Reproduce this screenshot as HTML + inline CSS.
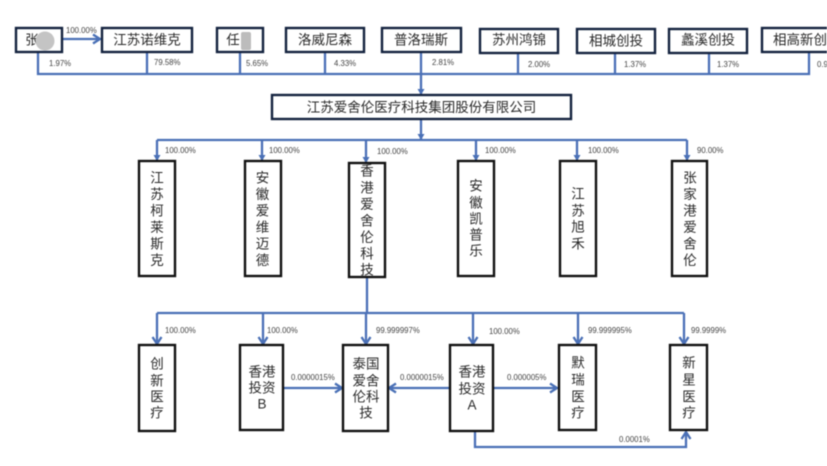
<!DOCTYPE html>
<html lang="zh">
<head>
<meta charset="utf-8">
<title>股权结构图</title>
<style>
html,body{margin:0;padding:0;background:#fff;width:827px;height:466px;overflow:hidden}
svg{display:block;filter:blur(.6px)}
.l{fill:none;stroke:#4a70b6;stroke-width:2.3}
.n{fill:#fff;stroke:#14233f;stroke-width:2.4}
.b{fill:#fff;stroke:#111;stroke-width:2.4}
.t{font-family:"Liberation Sans","Noto Sans CJK SC",sans-serif;font-size:13.5px;fill:#2a2a2a;text-anchor:middle;dominant-baseline:central}
.p{font-family:"Liberation Sans",sans-serif;font-size:7.8px;fill:#444}
</style>
</head>
<body>
<svg width="827" height="466" viewBox="0 0 827 466" xmlns="http://www.w3.org/2000/svg">
<defs>
<marker id="a" markerUnits="userSpaceOnUse" markerWidth="12" markerHeight="12" refX="9" refY="6" orient="auto">
<path d="M2 1.500 L9 6 L2 10.500" fill="none" stroke="#4a70b6" stroke-width="2.300"/>
</marker>
<marker id="s" markerUnits="userSpaceOnUse" markerWidth="8" markerHeight="8" refX="6" refY="4" orient="auto">
<path d="M0 0.500 L6 4 L0 7.500 Z" fill="#4a70b6"/>
</marker>
</defs>

<!-- top connectors -->
<path class="l" d="M38 52V74H809V52M147 52V74M240 52V74M325 52V74M421 52V74M518 53V74M615 53V74M709 53V74"/>
<path class="l" d="M63 39H100" marker-end="url(#a)"/>
<path class="l" d="M421 74V95" marker-end="url(#s)"/>
<path class="l" d="M421 119V140" marker-end="url(#s)"/>

<!-- second-level connectors -->
<path class="l" d="M157 140H687"/>
<path class="l" d="M157 140V161" marker-end="url(#s)"/>
<path class="l" d="M262 140V161" marker-end="url(#s)"/>
<path class="l" d="M366 140V163" marker-end="url(#s)"/>
<path class="l" d="M476 140V161" marker-end="url(#s)"/>
<path class="l" d="M577 140V161" marker-end="url(#s)"/>
<path class="l" d="M687 140V161" marker-end="url(#s)"/>

<!-- third-level connectors -->
<path class="l" d="M367 277V313M157 313H684"/>
<path class="l" d="M157 313V344" marker-end="url(#a)"/>
<path class="l" d="M263 313V344" marker-end="url(#a)"/>
<path class="l" d="M366 313V344" marker-end="url(#a)"/>
<path class="l" d="M473 313V344" marker-end="url(#a)"/>
<path class="l" d="M578 313V344" marker-end="url(#a)"/>
<path class="l" d="M684 313V344" marker-end="url(#a)"/>
<path class="l" d="M283 388H342" marker-end="url(#a)"/>
<path class="l" d="M450 388H389" marker-end="url(#a)"/>
<path class="l" d="M493 388H557" marker-end="url(#a)"/>
<path class="l" d="M475 431V447H686V432" marker-end="url(#a)"/>

<!-- top boxes -->
<rect class="n" x="16" y="28" width="46" height="24"/>
<rect class="n" x="102" y="28" width="90" height="24"/>
<rect class="n" x="217" y="28" width="46" height="24"/>
<rect class="n" x="286" y="28" width="78" height="24"/>
<rect class="n" x="382" y="28" width="79" height="24"/>
<rect class="n" x="480" y="29" width="78" height="24"/>
<rect class="n" x="577" y="29" width="78" height="24"/>
<rect class="n" x="669" y="29" width="78" height="24"/>
<rect class="n" x="762" y="28" width="80" height="24"/>
<rect class="n" x="272" y="95" width="299" height="24"/>

<text class="t" x="32" y="40">张</text>
<text class="t" x="147" y="40">江苏诺维克</text>
<text class="t" x="233" y="40">任</text>
<text class="t" x="325" y="40">洛威尼森</text>
<text class="t" x="421" y="40">普洛瑞斯</text>
<text class="t" x="519" y="40">苏州鸿锦</text>
<text class="t" x="616" y="41">相城创投</text>
<text class="t" x="708" y="40">蠡溪创投</text>
<text class="t" x="800" y="40">相高新创</text>
<text class="t" x="421.500" y="107.500">江苏爱舍伦医疗科技集团股份有限公司</text>

<!-- redaction blobs -->
<circle cx="45" cy="41" r="9.500" fill="#c4c4c4"/>
<rect x="241" y="32" width="10" height="18" rx="2" fill="#bcbcbc"/>

<!-- second-level boxes -->
<rect class="b" x="139" y="161" width="36" height="115"/>
<rect class="b" x="245" y="161" width="36" height="115"/>
<rect class="b" x="349" y="163" width="36" height="114"/>
<rect class="b" x="458" y="161" width="36" height="115"/>
<rect class="b" x="560" y="161" width="36" height="115"/>
<rect class="b" x="672" y="161" width="35" height="115"/>

<text class="t" x="157" y="178">江</text><text class="t" x="157" y="194.500">苏</text><text class="t" x="157" y="211">柯</text><text class="t" x="157" y="227.500">莱</text><text class="t" x="157" y="244">斯</text><text class="t" x="157" y="260.500">克</text>
<text class="t" x="262.500" y="178">安</text><text class="t" x="262.500" y="194.500">徽</text><text class="t" x="262.500" y="211">爱</text><text class="t" x="262.500" y="227.500">维</text><text class="t" x="262.500" y="244">迈</text><text class="t" x="262.500" y="260.500">德</text>
<text class="t" x="367" y="171">香</text><text class="t" x="367" y="188">港</text><text class="t" x="367" y="204.500">爱</text><text class="t" x="367" y="221">舍</text><text class="t" x="367" y="237.500">伦</text><text class="t" x="367" y="254">科</text><text class="t" x="367" y="270">技</text>
<text class="t" x="476" y="186">安</text><text class="t" x="476" y="203">徽</text><text class="t" x="476" y="219">凯</text><text class="t" x="476" y="235">普</text><text class="t" x="476" y="251">乐</text>
<text class="t" x="578" y="194">江</text><text class="t" x="578" y="211">苏</text><text class="t" x="578" y="227">旭</text><text class="t" x="578" y="244">禾</text>
<text class="t" x="690" y="178">张</text><text class="t" x="690" y="194.500">家</text><text class="t" x="690" y="211">港</text><text class="t" x="690" y="227.500">爱</text><text class="t" x="690" y="244">舍</text><text class="t" x="690" y="260.500">伦</text>

<!-- third-level boxes -->
<rect class="b" x="139" y="345" width="36" height="86"/>
<rect class="b" x="240" y="345" width="43" height="85"/>
<rect class="b" x="343" y="345" width="45" height="86"/>
<rect class="b" x="450" y="345" width="43" height="86"/>
<rect class="b" x="559" y="345" width="37" height="85"/>
<rect class="b" x="670" y="345" width="37" height="85"/>

<text class="t" x="157" y="364">创</text><text class="t" x="157" y="381">新</text><text class="t" x="157" y="397">医</text><text class="t" x="157" y="413">疗</text>
<text class="t" x="262" y="372">香港</text><text class="t" x="262" y="388">投资</text><text class="t" x="262" y="404">B</text>
<text class="t" x="366" y="364">泰国</text><text class="t" x="366" y="381">爱舍</text><text class="t" x="366" y="397">伦科</text><text class="t" x="366" y="413">技</text>
<text class="t" x="472" y="372">香港</text><text class="t" x="472" y="389">投资</text><text class="t" x="472" y="405">A</text>
<text class="t" x="578" y="363">默</text><text class="t" x="578" y="380">瑞</text><text class="t" x="578" y="397">医</text><text class="t" x="578" y="413">疗</text>
<text class="t" x="689" y="363">新</text><text class="t" x="689" y="380">星</text><text class="t" x="689" y="397">医</text><text class="t" x="689" y="413">疗</text>

<!-- percentage labels -->
<text class="p" x="66" y="33">100.00%</text>
<text class="p" x="49" y="66">1.97%</text>
<text class="p" x="154" y="65">79.58%</text>
<text class="p" x="246" y="66">5.65%</text>
<text class="p" x="334" y="66">4.33%</text>
<text class="p" x="432" y="65">2.81%</text>
<text class="p" x="528" y="67">2.00%</text>
<text class="p" x="624" y="67">1.37%</text>
<text class="p" x="717" y="67">1.37%</text>
<text class="p" x="817" y="67">0.9</text>

<text class="p" x="165" y="153">100.00%</text>
<text class="p" x="269" y="153">100.00%</text>
<text class="p" x="377" y="154">100.00%</text>
<text class="p" x="485" y="153">100.00%</text>
<text class="p" x="588" y="153">100.00%</text>
<text class="p" x="697" y="153">90.00%</text>

<text class="p" x="165" y="333">100.00%</text>
<text class="p" x="267" y="333">100.00%</text>
<text class="p" x="376" y="333">99.999997%</text>
<text class="p" x="489" y="334">100.00%</text>
<text class="p" x="588" y="333">99.999995%</text>
<text class="p" x="691" y="333">99.9999%</text>

<text class="p" x="291" y="380">0.0000015%</text>
<text class="p" x="400" y="380">0.0000015%</text>
<text class="p" x="507" y="380">0.000005%</text>
<text class="p" x="619" y="442">0.0001%</text>
</svg>
</body>
</html>
